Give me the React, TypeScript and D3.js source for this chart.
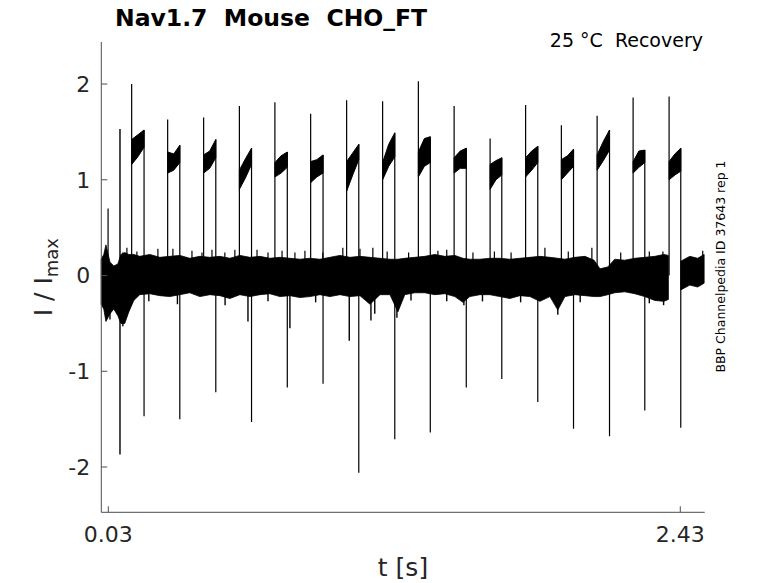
import React from 'react';
import * as d3 from 'd3';

// pulse onsets / offsets (s)
const onTimes = [0.128, 0.279, 0.430, 0.580, 0.729, 0.879, 1.030, 1.181, 1.331, 1.481, 1.632, 1.781, 1.931, 2.081, 2.232, 2.383];
const offTimes = [0.180, 0.330, 0.481, 0.631, 0.781, 0.931, 1.081, 1.232, 1.381, 1.532, 1.681, 1.832, 1.982, 2.133, 2.281, 2.432];
const onPeaks = [2.00, 1.63, 1.65, 1.77, 1.81, 1.69, 1.83, 1.82, 2.03, 1.77, 1.43, 1.78, 1.57, 1.67, 1.86, 1.87];
const offPeaks = [-1.47, -1.50, -1.22, -1.53, -1.17, -1.13, -2.06, -1.71, -1.64, -1.17, -1.08, -1.32, -1.60, -1.68, -1.41, -1.59];
// plateau envelope: start, middle, end of each pulse
const plateauStartHi = [1.42, 1.29, 1.26, 1.10, 1.18, 1.19, 1.19, 1.18, 1.29, 1.23, 1.16, 1.23, 1.21, 1.26, 1.19, 1.19];
const plateauStartLo = [1.16, 1.07, 1.07, 0.90, 1.03, 0.97, 0.88, 1.00, 1.03, 1.07, 0.90, 1.03, 1.00, 1.10, 1.07, 1.00];
const plateauMidHi = [1.47, 1.27, 1.30, 1.22, 1.25, 1.21, 1.28, 1.37, 1.43, 1.30, 1.20, 1.30, 1.25, 1.40, 1.30, 1.27];
const plateauMidLo = [1.24, 1.10, 1.12, 1.02, 1.07, 1.03, 1.05, 1.14, 1.14, 1.12, 1.00, 1.10, 1.07, 1.20, 1.13, 1.05];
const plateauEndHi = [1.52, 1.36, 1.42, 1.33, 1.29, 1.26, 1.37, 1.49, 1.45, 1.33, 1.23, 1.35, 1.32, 1.52, 1.31, 1.33];
const plateauEndLo = [1.34, 1.18, 1.23, 1.16, 1.13, 1.07, 1.21, 1.24, 1.18, 1.12, 1.05, 1.18, 1.14, 1.31, 1.18, 1.09];

// first transient
const firstSpikeTime = 0.079;
const firstSpikeHi = 1.53;
const firstSpikeLo = -1.87;

// envelope of the overlaid baseline noise (null = gap)
const bandTimes = [0.000, 0.011, 0.020, 0.037, 0.053, 0.070, 0.083, 0.099, 0.116, 0.137, 0.162, 0.204, 0.246, 0.288, 0.330, 0.372, 0.414, 0.456, 0.498, 0.540, 0.582, 0.624, 0.666, 0.708, 0.750, 0.792, 0.834, 0.876, 0.918, 0.960, 1.002, 1.044, 1.086, 1.128, 1.170, 1.212, 1.245, 1.274, 1.316, 1.358, 1.400, 1.442, 1.484, 1.518, 1.547, 1.589, 1.631, 1.673, 1.715, 1.757, 1.799, 1.841, 1.883, 1.916, 1.946, 1.988, 2.030, 2.068, 2.093, 2.126, 2.155, 2.197, 2.239, 2.281, 2.323, 2.361, 2.380, 2.405, 2.432, 2.470, 2.503, 2.530];
const bandHi = [0.17, 0.22, 0.32, 0.14, 0.10, 0.12, 0.22, 0.24, 0.22, 0.22, 0.20, 0.22, 0.19, 0.20, 0.21, 0.18, 0.20, 0.19, 0.20, 0.18, 0.21, 0.19, 0.20, 0.18, 0.19, 0.18, 0.17, 0.18, 0.17, 0.19, 0.21, 0.19, 0.20, 0.19, 0.18, 0.17, 0.17, 0.18, 0.19, 0.20, 0.22, 0.20, 0.21, 0.18, 0.17, 0.17, 0.18, 0.18, 0.17, 0.18, 0.19, 0.20, 0.19, 0.18, 0.17, 0.19, 0.20, 0.16, 0.07, 0.09, 0.17, 0.16, 0.18, 0.19, 0.20, 0.22, 0.21, null, 0.15, 0.20, 0.18, 0.22];
const bandLo = [-0.30, -0.35, -0.48, -0.40, -0.35, -0.42, -0.50, -0.50, -0.38, -0.26, -0.20, -0.19, -0.21, -0.22, -0.20, -0.18, -0.22, -0.20, -0.21, -0.24, -0.20, -0.22, -0.20, -0.19, -0.22, -0.21, -0.23, -0.22, -0.20, -0.22, -0.20, -0.22, -0.21, -0.30, -0.20, -0.20, -0.38, -0.20, -0.18, -0.18, -0.20, -0.19, -0.22, -0.28, -0.22, -0.20, -0.20, -0.22, -0.24, -0.21, -0.22, -0.27, -0.22, -0.36, -0.22, -0.20, -0.21, -0.22, -0.22, -0.20, -0.18, -0.17, -0.19, -0.22, -0.26, -0.27, -0.25, null, -0.15, -0.10, -0.12, -0.08];

// narrow excursions sticking out of the band
const upSpikeTimes = [0.029, 0.091, 0.108, 0.150, 0.238, 0.301, 0.381, 0.423, 0.465, 0.519, 0.561, 0.654, 0.700, 0.759, 0.813, 0.855, 0.930, 1.014, 1.086, 1.140, 1.200, 1.290, 1.413, 1.450, 1.560, 1.650, 1.720, 1.862, 1.960, 2.059, 2.180, 2.300, 2.357, 2.524];
const upSpikeValues = [0.70, 0.24, 0.29, 0.25, 0.28, 0.28, 0.26, 0.24, 0.27, 0.24, 0.27, 0.27, 0.24, 0.26, 0.24, 0.26, 0.24, 0.29, 0.28, 0.29, 0.25, 0.24, 0.26, 0.27, 0.24, 0.25, 0.24, 0.29, 0.25, 0.29, 0.24, 0.25, 0.25, 0.26];
const downSpikeTimes = [0.037, 0.091, 0.200, 0.320, 0.520, 0.616, 0.700, 0.792, 0.900, 1.041, 1.132, 1.148, 1.241, 1.300, 1.450, 1.522, 1.600, 1.760, 1.916, 2.010, 2.300, 2.360];
const downSpikeValues = [-0.46, -0.53, -0.27, -0.30, -0.31, -0.48, -0.27, -0.55, -0.28, -0.68, -0.47, -0.40, -0.44, -0.26, -0.27, -0.31, -0.27, -0.28, -0.41, -0.28, -0.29, -0.31];

const yTicks = [-2, -1, 0, 1, 2];
const xTicks = [0.03, 2.43];

const font = '"DejaVu Sans", sans-serif';

export default function App() {
  const left = 101.3, right = 704.7, top = 42, bottom = 512.3;
  const x = d3.scaleLinear().domain([0.0006, 2.5324]).range([left, right]);
  const y = d3.scaleLinear().domain([-2.473, 2.439]).range([bottom, top]);

  const bandIdx = d3.range(bandTimes.length);
  const band = d3.area<number>()
    .defined(i => bandHi[i] !== null)
    .x(i => x(bandTimes[i]))
    .y0(i => y(bandLo[i] as number))
    .y1(i => y(bandHi[i] as number))(bandIdx);

  const line = d3.line<[number, number]>().x(d => x(d[0])).y(d => y(d[1]));

  return (
    <svg width={778} height={583} style={{ position: 'absolute', left: 0, top: 0, background: '#fff' }}>
      <path d={band || ''} fill="#000" stroke="#000" strokeWidth={0.8} />

      {onTimes.map((t, i) => {
        const tm = (t + offTimes[i]) / 2;
        const poly: [number, number][] = [
          [t, plateauStartLo[i]], [t, plateauStartHi[i]], [tm, plateauMidHi[i]], [offTimes[i], plateauEndHi[i]],
          [offTimes[i], plateauEndLo[i]], [tm, plateauMidLo[i]],
        ];
        return (
          <g key={i}>
            <path d={line(poly) + 'Z'} fill="#000" stroke="#000" strokeWidth={1} />
            <path d={line([[t, 0], [t, onPeaks[i]]]) || ''} stroke="#000" strokeWidth={1.2} />
            <path d={line([[offTimes[i], plateauEndHi[i]], [offTimes[i], offPeaks[i]]]) || ''} stroke="#000" strokeWidth={1.2} />
          </g>
        );
      })}

      <path d={line([[firstSpikeTime, firstSpikeLo], [firstSpikeTime, firstSpikeHi]]) || ''} stroke="#000" strokeWidth={1.4} />
      {upSpikeTimes.map((t, i) => (
        <path key={'u' + i} d={line([[t, 0], [t, upSpikeValues[i]]]) || ''} stroke="#000" strokeWidth={1.2} />
      ))}
      {downSpikeTimes.map((t, i) => (
        <path key={'d' + i} d={line([[t, 0], [t, downSpikeValues[i]]]) || ''} stroke="#000" strokeWidth={1.4} />
      ))}

      {/* axes */}
      <line x1={left} x2={left} y1={top} y2={bottom} stroke="#4d4d4d" strokeWidth={1} />
      <line x1={left} x2={right} y1={bottom} y2={bottom} stroke="#4d4d4d" strokeWidth={1} />
      {yTicks.map(v => (
        <g key={'y' + v}>
          <line x1={left} x2={left + 6} y1={y(v)} y2={y(v)} stroke="#4d4d4d" />
          <text x={left - 11} y={y(v)} dy="0.36em" textAnchor="end" fontFamily={font} fontSize={22} fill="#262626">{v}</text>
        </g>
      ))}
      {xTicks.map(v => (
        <g key={'x' + v}>
          <line x1={x(v)} x2={x(v)} y1={bottom} y2={bottom - 6} stroke="#4d4d4d" />
          <text x={x(v)} y={542} textAnchor="middle" fontFamily={font} fontSize={22} fill="#262626">{v.toFixed(2)}</text>
        </g>
      ))}

      <text x={(left + right) / 2} y={576} textAnchor="middle" fontFamily={font} fontSize={25} fill="#262626">t [s]</text>
      <text transform={`translate(52,${(top + bottom) / 2}) rotate(-90)`} textAnchor="middle" fontFamily={font} fontSize={25} fill="#262626">
        I / I<tspan fontSize={18} dy={6}>max</tspan>
      </text>

      <text x={115} y={26} fontFamily={font} fontSize={23.5} fontWeight="bold" fill="#000" style={{ whiteSpace: 'pre' }}>Nav1.7  Mouse  CHO_FT</text>
      <text x={703} y={47} textAnchor="end" fontFamily={font} fontSize={19} fill="#000" style={{ whiteSpace: 'pre' }}>25 °C  Recovery</text>
      <text transform="translate(725,266.5) rotate(-90)" textAnchor="middle" fontFamily={font} fontSize={12.5} fill="#000">BBP Channelpedia ID 37643 rep 1</text>
    </svg>
  );
}
